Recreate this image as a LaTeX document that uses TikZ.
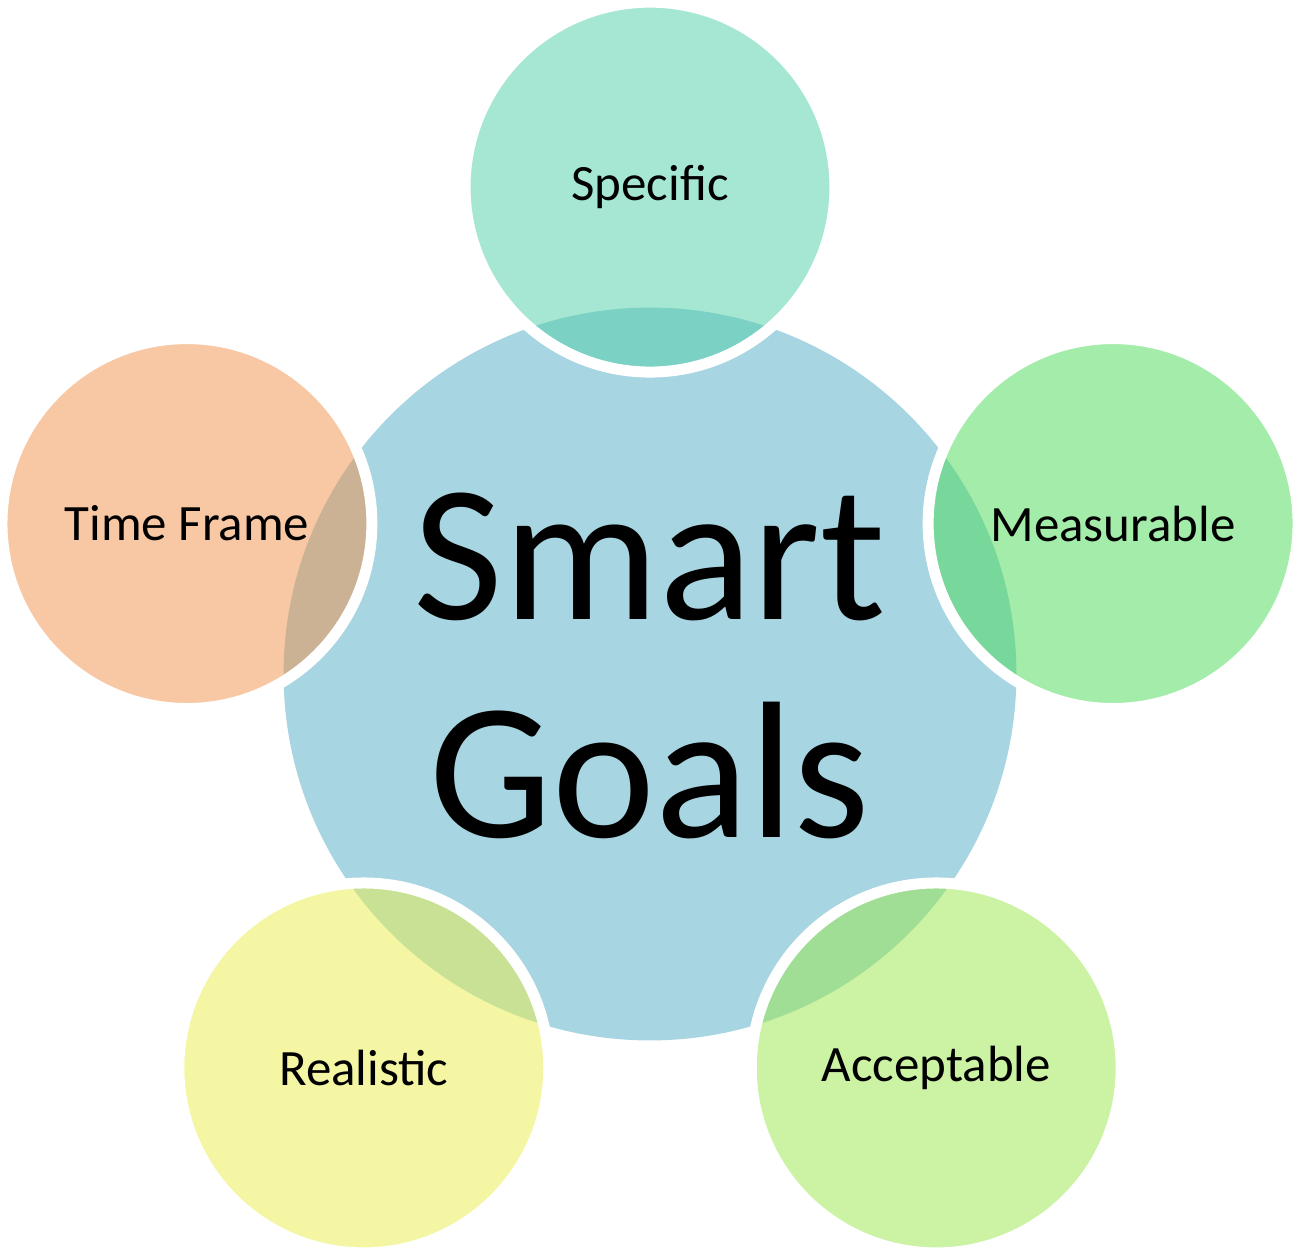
\documentclass[tikz,border=0pt]{standalone}
\usepackage{fontspec}
\setmainfont{Carlito}
\usetikzlibrary{calc}
\definecolor{hubblue}{RGB}{168,213,226}
\definecolor{specgreen}{RGB}{77,207,167}
\definecolor{measgreen}{RGB}{73,217,85}
\definecolor{accgreen}{RGB}{153,229,73}
\definecolor{realyellow}{RGB}{233,237,73}
\definecolor{timeorange}{RGB}{241,145,73}
\tikzset{
  petal/.style={circle, minimum size=7.40cm, inner sep=0pt, draw=white,
    line width=0.22cm, fill opacity=0.5, text opacity=1,
    font=\fontsize{29}{35}\selectfont}
}
\begin{document}
\begin{tikzpicture}[x=0.02cm, y=-0.02cm]
\useasboundingbox (0,0) rectangle (1300,1257);
% centre
\node[circle, minimum size=14.66cm, inner sep=0pt, fill=hubblue] (hub) at (650,674) {};
\node[align=center, inner sep=0pt, font=\fontsize{111}{124}\selectfont] (title) at (650,666) {Smart\\Goals};
% the five goals round it
\foreach \a/\c/\t [count=\i] in {90/specgreen/Specific, 18/measgreen/Measurable,
    -54/accgreen/Acceptable, -126/realyellow/Realistic, 162/timeorange/Time Frame}
  \node[petal, fill=\c] (P\i) at ($(hub)+(\a:9.74cm)$) {\t};
\end{tikzpicture}
\end{document}
